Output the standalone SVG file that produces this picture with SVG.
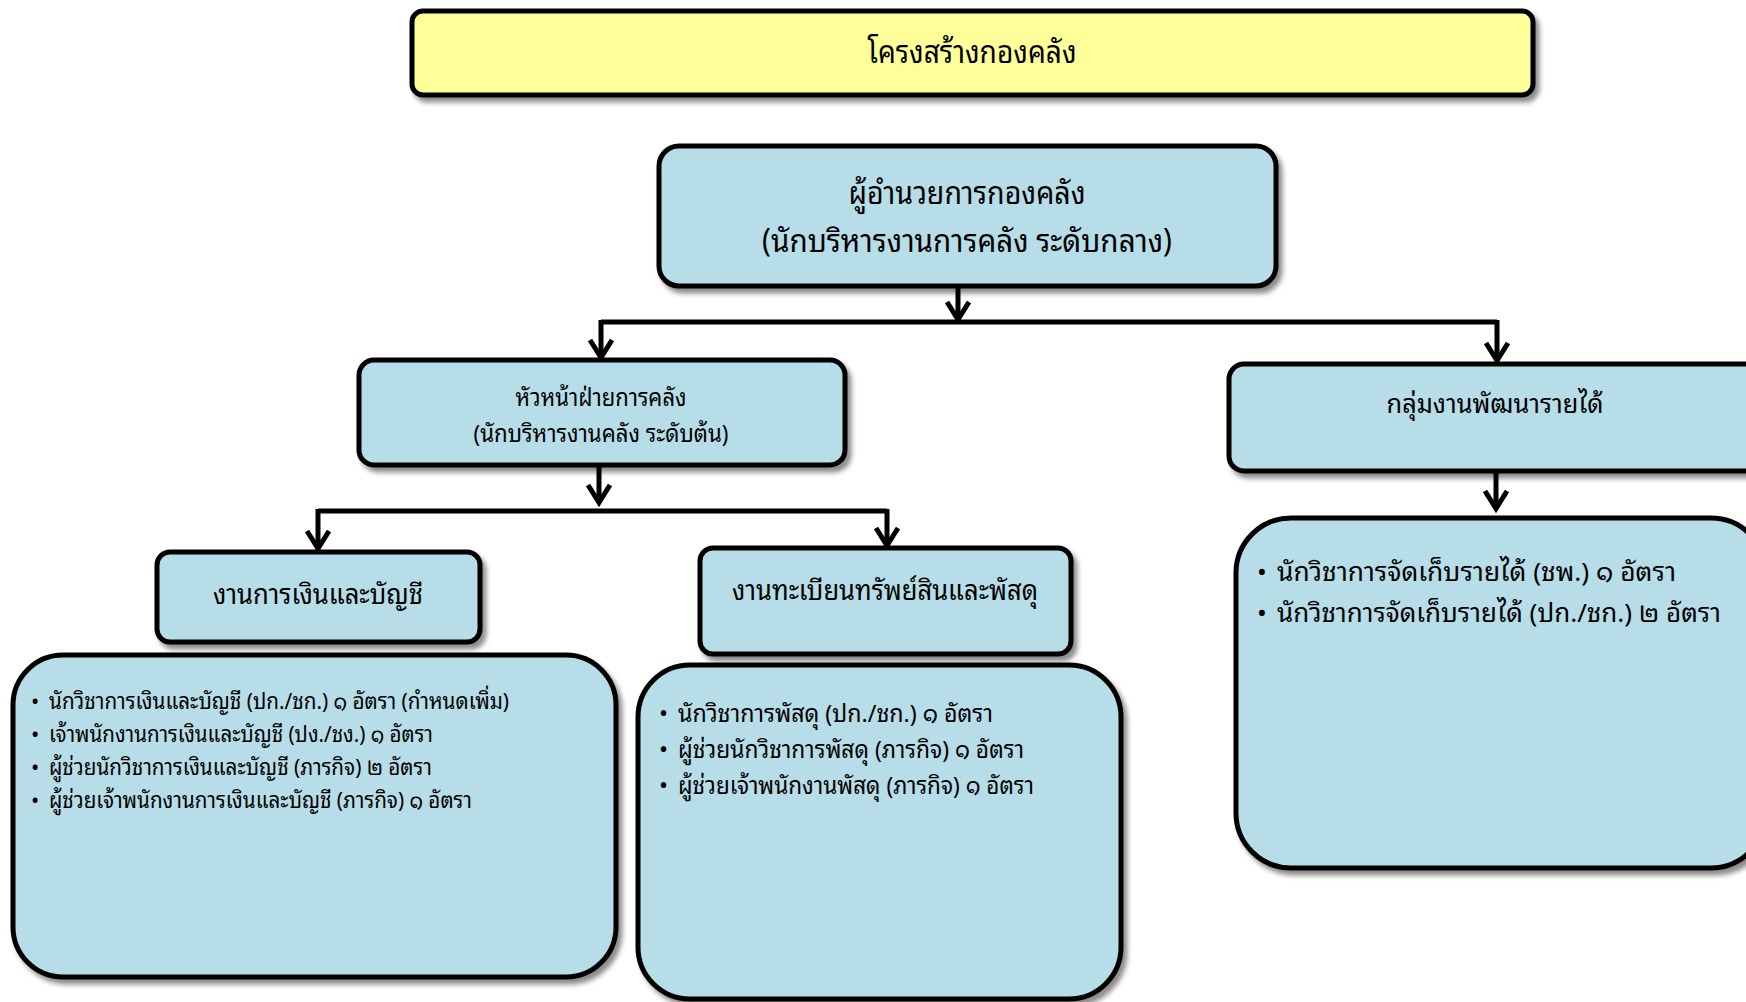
<svg xmlns="http://www.w3.org/2000/svg" width="1746" height="1002" viewBox="0 0 1746 1002">
<style>
.box{fill:#B7DDE8;stroke:#000;stroke-width:5;filter:url(#sh)}
.ybox{fill:#FFFF99;stroke:#000;stroke-width:5;filter:url(#sh)}
text{font-family:"Noto Sans Thai Looped","Noto Sans Thai","Noto Sans","Loma","Garuda",Tahoma,sans-serif;fill:#000}
.c{text-anchor:middle}
.con{fill:none;stroke:#000;stroke-width:5;marker-end:url(#ah)}
.ln{fill:none;stroke:#000;stroke-width:5}
</style>
<defs>
<filter id="sh" x="-10%" y="-10%" width="125%" height="130%">
<feDropShadow dx="4" dy="5" stdDeviation="2.5" flood-color="#000" flood-opacity="0.45"/>
</filter>
<marker id="ah" markerUnits="userSpaceOnUse" viewBox="-22 -14 26 28" markerWidth="26" markerHeight="28" refX="-1" refY="0" orient="auto">
<path d="M-19,-11 L-1.5,0 L-19,11" fill="none" stroke="#000" stroke-width="5" stroke-linejoin="miter"/>
</marker>
</defs>
<rect width="1746" height="1002" fill="#fff"/>

<g id="connectors">
<line class="con" x1="958" y1="286" x2="958" y2="320"/>
<line class="ln" x1="601" y1="322" x2="1497" y2="322"/>
<line class="con" x1="601" y1="320" x2="601" y2="358"/>
<line class="con" x1="1497" y1="320" x2="1497" y2="361"/>
<line class="con" x1="599" y1="465" x2="599" y2="503"/>
<line class="ln" x1="318" y1="511" x2="887" y2="511"/>
<line class="con" x1="318" y1="509" x2="318" y2="549"/>
<line class="con" x1="887" y1="509" x2="887" y2="546"/>
<line class="con" x1="1496" y1="472" x2="1496" y2="509"/>
</g>

<g id="title">
<rect class="ybox" x="412" y="11" width="1121" height="84" rx="11"/>
<text class="c" x="972" y="63" font-size="32" textLength="209" lengthAdjust="spacingAndGlyphs">โครงสร้างกองคลัง</text>
</g>

<g id="director">
<rect class="box" x="659" y="146" width="617" height="140" rx="20"/>
<text class="c" x="967" y="204" font-size="32" textLength="237" lengthAdjust="spacingAndGlyphs">ผู้อำนวยการกองคลัง</text>
<text class="c" x="967" y="252" font-size="32" textLength="410" lengthAdjust="spacingAndGlyphs">(นักบริหารงานการคลัง ระดับกลาง)</text>
</g>

<g id="head-finance">
<rect class="box" x="359" y="360" width="486" height="105" rx="15"/>
<text class="c" x="601" y="406" font-size="24" textLength="171" lengthAdjust="spacingAndGlyphs">หัวหน้าฝ่ายการคลัง</text>
<text class="c" x="601" y="442" font-size="24" textLength="255" lengthAdjust="spacingAndGlyphs">(นักบริหารงานคลัง ระดับต้น)</text>
</g>

<g id="revenue">
<rect class="box" x="1229" y="364" width="540" height="107" rx="15"/>
<text class="c" x="1495" y="413" font-size="27" textLength="217" lengthAdjust="spacingAndGlyphs">กลุ่มงานพัฒนารายได้</text>
</g>

<g id="finance-accounts">
<rect class="box" x="157" y="552" width="323" height="90" rx="13"/>
<text class="c" x="318" y="604" font-size="28" textLength="210" lengthAdjust="spacingAndGlyphs">งานการเงินและบัญชี</text>
</g>

<g id="registry">
<rect class="box" x="700" y="548" width="371" height="106" rx="13"/>
<text class="c" x="885" y="600" font-size="28" textLength="306" lengthAdjust="spacingAndGlyphs">งานทะเบียนทรัพย์สินและพัสดุ</text>
</g>

<g id="finance-list">
<rect class="box" x="13" y="655" width="603" height="322" rx="50"/>
<text x="31" y="709" font-size="22">•</text>
<text x="49" y="709" font-size="22" textLength="460" lengthAdjust="spacingAndGlyphs">นักวิชาการเงินและบัญชี (ปก./ชก.) ๑ อัตรา (กำหนดเพิ่ม)</text>
<text x="31" y="742" font-size="22">•</text>
<text x="49" y="742" font-size="22" textLength="384" lengthAdjust="spacingAndGlyphs">เจ้าพนักงานการเงินและบัญชี (ปง./ชง.) ๑ อัตรา</text>
<text x="31" y="775" font-size="22">•</text>
<text x="49" y="775" font-size="22" textLength="383" lengthAdjust="spacingAndGlyphs">ผู้ช่วยนักวิชาการเงินและบัญชี (ภารกิจ) ๒ อัตรา</text>
<text x="31" y="808" font-size="22">•</text>
<text x="49" y="808" font-size="22" textLength="423" lengthAdjust="spacingAndGlyphs">ผู้ช่วยเจ้าพนักงานการเงินและบัญชี (ภารกิจ) ๑ อัตรา</text>
</g>

<g id="registry-list">
<rect class="box" x="638" y="665" width="483" height="334" rx="52"/>
<text x="659" y="722" font-size="24">•</text>
<text x="678" y="722" font-size="24" textLength="315" lengthAdjust="spacingAndGlyphs">นักวิชาการพัสดุ (ปก./ชก.)  ๑ อัตรา</text>
<text x="659" y="758" font-size="24">•</text>
<text x="678" y="758" font-size="24" textLength="346" lengthAdjust="spacingAndGlyphs">ผู้ช่วยนักวิชาการพัสดุ (ภารกิจ) ๑ อัตรา</text>
<text x="659" y="794" font-size="24">•</text>
<text x="678" y="794" font-size="24" textLength="356" lengthAdjust="spacingAndGlyphs">ผู้ช่วยเจ้าพนักงานพัสดุ (ภารกิจ) ๑ อัตรา</text>
</g>

<g id="revenue-list">
<rect class="box" x="1236" y="518" width="530" height="350" rx="55"/>
<text x="1257" y="581" font-size="26">•</text>
<text x="1277" y="581" font-size="26" textLength="399" lengthAdjust="spacingAndGlyphs">นักวิชาการจัดเก็บรายได้ (ชพ.) ๑ อัตรา</text>
<text x="1257" y="622" font-size="26">•</text>
<text x="1277" y="622" font-size="26" textLength="444" lengthAdjust="spacingAndGlyphs">นักวิชาการจัดเก็บรายได้ (ปก./ชก.) ๒ อัตรา</text>
</g>
</svg>
